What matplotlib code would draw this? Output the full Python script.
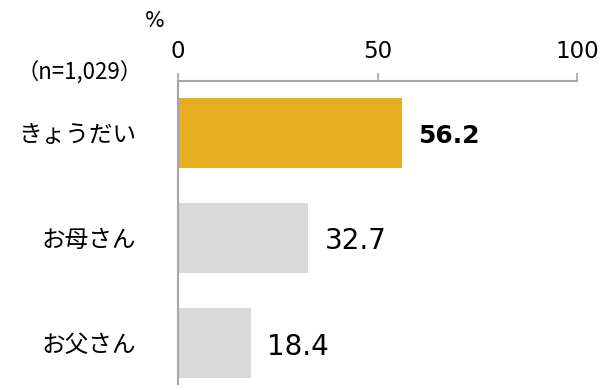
import matplotlib.pyplot as plt

plt.rcParams['font.family'] = ['Noto Sans CJK JP', 'DejaVu Sans']

categories = ['きょうだい', 'お母さん', 'お父さん']
values = [56.2, 32.7, 18.4]
colors = ['#E8AE22', '#D9D9D9', '#D9D9D9']
xticks = [0, 50, 100]

fig = plt.figure(figsize=(6.06, 3.9), dpi=100)
ax = fig.add_axes([178 / 606, 6 / 390, 399 / 606, 303 / 390])

pos = list(range(len(categories)))
ax.barh(pos, values, height=0.667, color=colors, zorder=2)

ax.set_xlim(0, 100)
ax.set_ylim(2.386, -0.495)

# value axis sits on top, ticks pointing upward
ax.xaxis.tick_top()
ax.set_xticks(xticks)
ax.set_xticklabels([str(t) for t in xticks], family='DejaVu Sans', fontsize=16.5)
ax.tick_params(axis='x', direction='out', length=6, width=1.2, color='#A6A6A6', pad=7)
ax.tick_params(axis='y', length=0, pad=30)
ax.set_yticks(pos)
ax.set_yticklabels(categories, fontsize=17)

for side in ['right', 'bottom']:
    ax.spines[side].set_visible(False)
for side in ['top', 'left']:
    ax.spines[side].set_color('#A6A6A6')
    ax.spines[side].set_linewidth(1.5)

for i, v in enumerate(values):
    bold = i == 0
    ax.text(v + 4.0, i + 0.03, f'{v:.1f}', va='center', ha='left',
            family='DejaVu Sans', fontsize=18 if bold else 20,
            fontweight='bold' if bold else 'normal')

fig.text(155 / 606, 1 - 21 / 390, '%', ha='center', va='center',
         family='DejaVu Sans', fontsize=15)
fig.text(80 / 606, 1 - 72 / 390, '（n=1,029）', ha='center', va='center', fontsize=16)

fig.savefig('out.png', dpi=100)
